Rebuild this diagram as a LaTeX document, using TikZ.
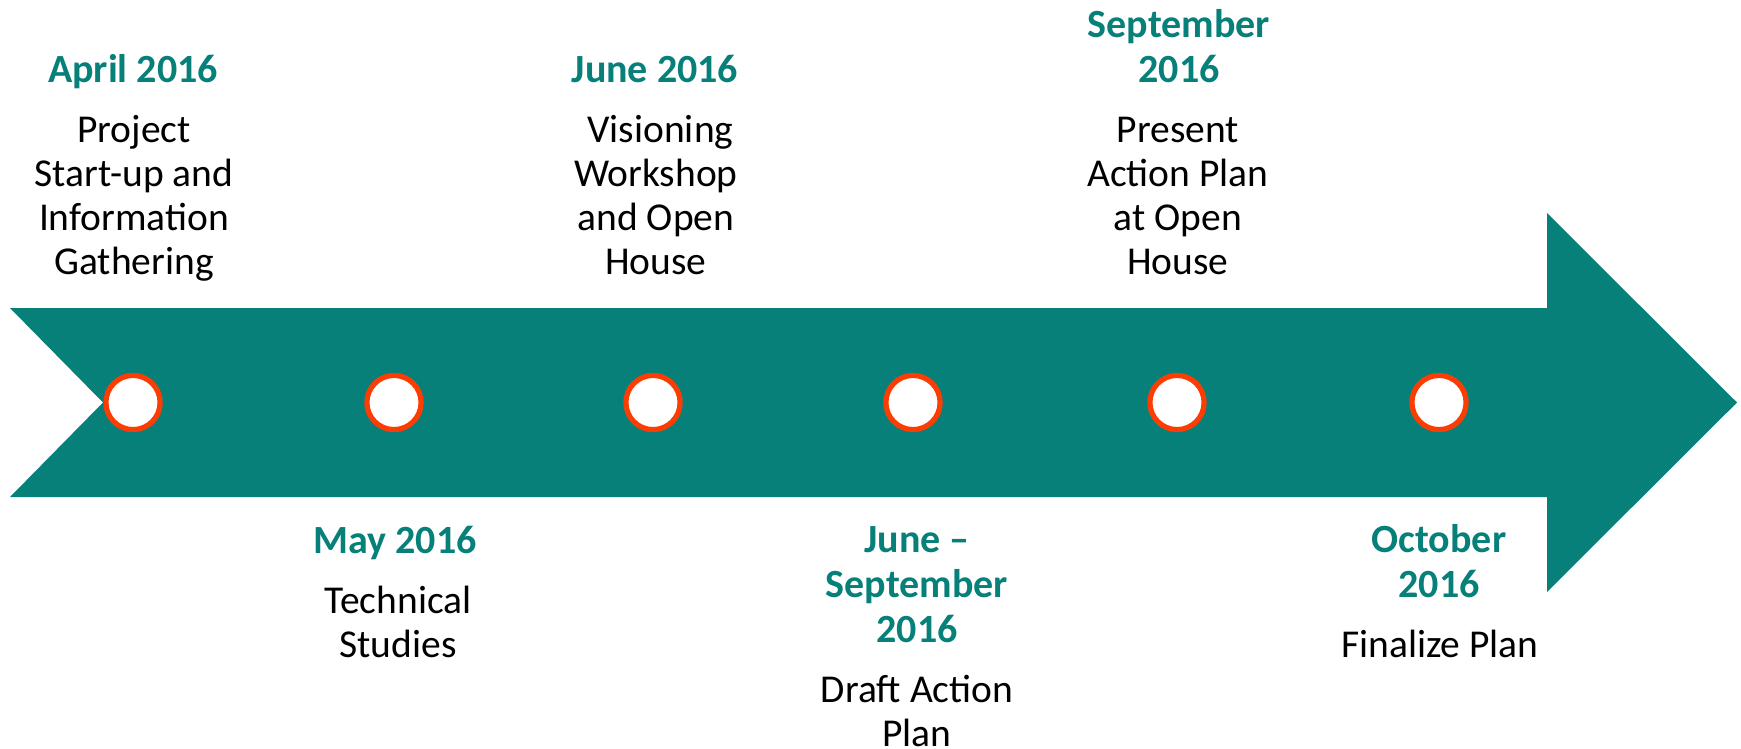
\documentclass[tikz,border=0pt]{standalone}
\usepackage{fontspec}
\setmainfont{Carlito}
\usepackage{tikz}
\definecolor{tealband}{RGB}{8,128,122}
\definecolor{ringred}{RGB}{252,61,3}

\begin{document}
\begin{tikzpicture}[x=1pt,y=-1pt,
  date/.style={font=\fontsize{40}{45}\selectfont\bfseries, text=tealband, align=center, anchor=base, inner sep=0pt},
  task/.style={font=\fontsize{39.5}{44}\selectfont, align=center, anchor=base, inner sep=0pt},
  mile/.style={circle, draw=ringred, fill=white, line width=5.2pt, minimum size=54.2pt, inner sep=0pt}]
  \useasboundingbox (0,0) rectangle (1741,748);
  % the band
  \fill[tealband] (10,308) -- (1547,308) -- (1547,213) -- (1737,402.5) -- (1547,592)
    -- (1547,497) -- (10,497) -- (103,402.5) -- cycle;

  \node[mile] (m1) at (133,402.5) {};
  \node[mile] (m2) at (394,402.5) {};
  \node[mile] (m3) at (653,402.5) {};
  \node[mile] (m4) at (913,402.5) {};
  \node[mile] (m5) at (1177,402.5) {};
  \node[mile] (m6) at (1439,402.5) {};

  % above the band (placed at the base of the last line)
  \node[date] (d1) at (133,82) {April 2016};
  \node[task] (t1) at (134,274) {Project\\Start-up and\\Information\\Gathering};
  \node[date] (d3) at (655,82) {June 2016};
  \node[task] (t3) at (656,274) {\ Visioning\\Workshop\\and Open\\House};
  \node[date] (d5) at (1179,82) {September\\2016};
  \node[task] (t5) at (1178,274) {Present\\Action Plan\\at Open\\House};

  % below the band
  \node[date] (d2) at (395,553) {May 2016};
  \node[task] (t2) at (398,657) {Technical\\Studies};
  \node[date] (d4) at (917,642) {June --\\September\\2016};
  \node[task] (t4) at (917,746) {Draft Action\\Plan};
  \node[date] (d6) at (1439,597) {October\\2016};
  \node[task] (t6) at (1440,657) {Finalize Plan};
\end{tikzpicture}
\end{document}
